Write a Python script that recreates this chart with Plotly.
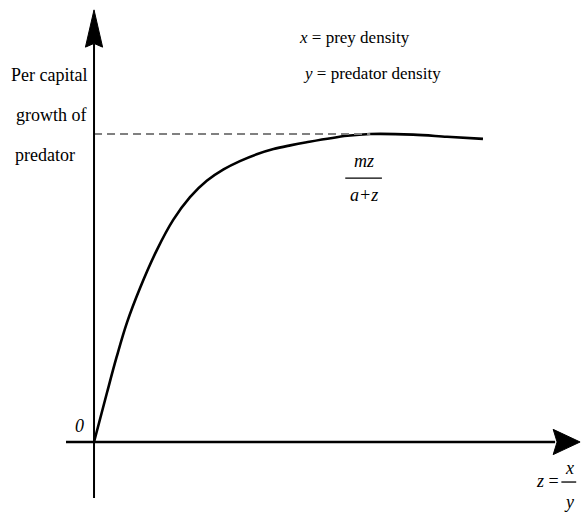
import plotly.graph_objects as go

# Per-capita predator growth versus prey/predator ratio z = x/y
z_vals = [0.0, 0.33, 0.58, 0.84, 1.18, 1.61, 2.03, 2.46, 2.89, 3.32, 3.74,
          4.17, 4.60, 5.03, 5.45, 6.49, 7.08, 8.18, 9.05, 9.97]
growth = [0.0, 0.159, 0.276, 0.386, 0.500, 0.623, 0.721, 0.795, 0.848, 0.885,
          0.912, 0.934, 0.951, 0.963, 0.973, 0.994, 1.0, 0.998, 0.991, 0.984]
m_level = 1.0          # saturation level m
dash_end = 7.08        # where the asymptote guide stops

X_RANGE = [-2.41, 12.56]
Y_RANGE = [-0.263, 1.435]

SERIF = "Liberation Serif"
INK = "#000000"

fig = go.Figure()

fig.add_trace(go.Scatter(
    x=z_vals, y=growth, mode="lines",
    line=dict(color=INK, width=2.6, shape="spline", smoothing=1.0),
    hoverinfo="skip", showlegend=False,
))

# asymptote m (dashed)
fig.add_trace(go.Scatter(
    x=[0, dash_end], y=[m_level, m_level], mode="lines",
    line=dict(color="#808080", width=2.2, dash="8px,5px"),
    hoverinfo="skip", showlegend=False,
))

shapes = []
# vertical axis with arrowhead
v_bottom, v_base, v_tip, v_half = -0.182, 1.282, 1.403, 0.22
shapes.append(dict(type="line", xref="x", yref="y", x0=0, x1=0, y0=v_bottom, y1=v_base + 0.01,
                   line=dict(color=INK, width=2)))
shapes.append(dict(type="path", xref="x", yref="y",
                   path=f"M {-v_half},{v_base} L 0,{v_tip} L {v_half},{v_base} L 0,{v_base + 0.012} Z",
                   fillcolor=INK, line=dict(color=INK, width=1)))
# horizontal axis with arrowhead
h_left, h_base, h_tip, h_half = -0.718, 11.77, 12.46, 0.041
shapes.append(dict(type="line", xref="x", yref="y", x0=h_left, x1=h_base + 0.05, y0=0, y1=0,
                   line=dict(color=INK, width=2.6)))
shapes.append(dict(type="path", xref="x", yref="y",
                   path=f"M {h_base},{-h_half} L {h_tip},0 L {h_base},{h_half} L {h_base + 0.1},0 Z",
                   fillcolor=INK, line=dict(color=INK, width=1)))
# fraction bars
shapes.append(dict(type="line", xref="x", yref="y", x0=6.44, x1=7.38, y0=0.857, y1=0.857,
                   line=dict(color=INK, width=1.3)))
shapes.append(dict(type="line", xref="x", yref="y", x0=11.98, x1=12.36, y0=-0.130, y1=-0.130,
                   line=dict(color=INK, width=1.3)))


def note(text, x, y, xanchor="center", size=17, italic=False):
    return dict(text=f"<i>{text}</i>" if italic else text, x=x, y=y, xref="x", yref="y",
                xanchor=xanchor, yanchor="middle", showarrow=False,
                font=dict(family=SERIF, size=size, color=INK))


annotations = [
    note("Per capital", -0.12, 1.192, xanchor="right", size=18),
    note("growth of", -0.12, 1.062, xanchor="right", size=18),
    note("predator", -2.08, 0.932, xanchor="left", size=18),
    note("<i>x</i> = prey density", 5.2, 1.312, xanchor="left"),
    note("<i>y</i> = predator density", 5.3, 1.198, xanchor="left"),
    note("mz", 6.91, 0.912, italic=True, size=18),
    note("a+z", 6.91, 0.803, italic=True, size=18),
    note("0", -0.36, 0.052, italic=True, size=18),
    note("<i>z</i> =", 11.98, -0.128, xanchor="right", size=18),
    note("x", 12.18, -0.086, italic=True, size=18),
    note("y", 12.18, -0.195, italic=True, size=18),
]

fig.update_layout(
    width=584, height=523,
    margin=dict(l=0, r=0, t=0, b=0),
    paper_bgcolor="white", plot_bgcolor="white",
    xaxis=dict(range=X_RANGE, visible=False, fixedrange=True),
    yaxis=dict(range=Y_RANGE, visible=False, fixedrange=True),
    shapes=shapes, annotations=annotations,
    showlegend=False,
)

fig.write_html("out.html")
